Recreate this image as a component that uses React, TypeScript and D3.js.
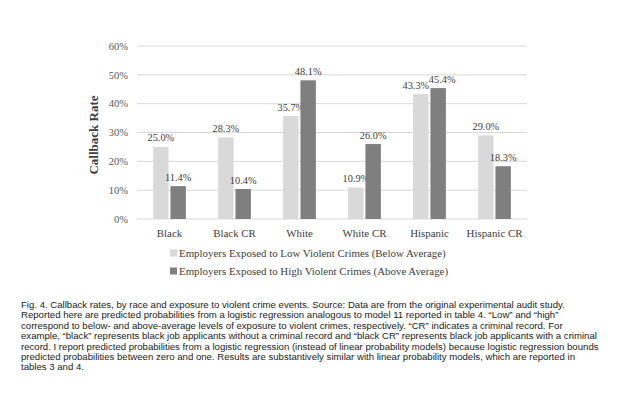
import React from "react";
import * as d3 from "d3";

const categories = ["Black", "Black CR", "White", "White CR", "Hispanic", "Hispanic CR"];
const lowViolent = [25.0, 28.3, 35.7, 10.9, 43.3, 29.0];
const highViolent = [11.4, 10.4, 48.1, 26.0, 45.4, 18.3];
const yTicks = [0, 10, 20, 30, 40, 50, 60];
const seriesNames = [
  "Employers Exposed to Low Violent Crimes (Below Average)",
  "Employers Exposed to High Violent Crimes (Above Average)",
];
const captionLines = [
  "Fig. 4. Callback rates, by race and exposure to violent crime events. Source: Data are from the original experimental audit study.",
  "Reported here are predicted probabilities from a logistic regression analogous to model 11 reported in table 4. \u201cLow\u201d and \u201chigh\u201d",
  "correspond to below- and above-average levels of exposure to violent crimes, respectively. \u201cCR\u201d indicates a criminal record. For",
  "example, \u201cblack\u201d represents black job applicants without a criminal record and \u201cblack CR\u201d represents black job applicants with a criminal",
  "record. I report predicted probabilities from a logistic regression (instead of linear probability models) because logistic regression bounds",
  "predicted probabilities between zero and one. Results are substantively similar with linear probability models, which are reported in",
  "tables 3 and 4.",
];

const colors = ["#d9d9d9", "#7f7f7f"];
const serif = "'Liberation Serif', 'Times New Roman', serif";
const sans = "'Liberation Sans', Arial, sans-serif";

export default function App() {
  const width = 620, height = 395;
  const left = 137, right = 527, top = 46, bottom = 219;

  const x = d3.scaleBand<string>().domain(categories).range([left, right]).paddingInner(0).paddingOuter(0);
  const y = d3.scaleLinear().domain([0, 60]).range([bottom, top]);
  const inner = d3.scaleBand<number>().domain([0, 1]).range([0, x.bandwidth()]).paddingInner(0.11).paddingOuter(0.93);

  const series = [lowViolent, highViolent];

  return (
    <svg width={width} height={height} style={{ position: "absolute", left: 0, top: 0, background: "#fff" }}>
      {yTicks.map((t) => (
        <g key={t}>
          <line x1={left} x2={right} y1={y(t)} y2={y(t)} stroke="#d9d9d9" strokeWidth={1} />
          <text x={128} y={y(t)} dy="0.35em" textAnchor="end" fontFamily={serif} fontSize={10.5} fill="#595959">
            {d3.format("d")(t) + "%"}
          </text>
        </g>
      ))}
      <text
        transform={`translate(93,135) rotate(-90)`}
        textAnchor="middle"
        dy="0.35em"
        fontFamily={serif}
        fontWeight="bold"
        fontSize={13}
        fill="#404040"
      >
        Callback Rate
      </text>
      {series.map((vals, si) =>
        vals.map((v, i) => {
          const bx = (x(categories[i]) ?? 0) + (inner(si) ?? 0);
          const bw = inner.bandwidth();
          // push labels apart when both bars are nearly the same height
          const other = series[1 - si][i];
          const nudge = Math.abs(v - other) < 4 ? (si === 0 ? -5 : 4) : 0;
          return (
            <g key={`${si}-${i}`}>
              <rect x={bx} y={y(v)} width={bw} height={y(0) - y(v)} fill={colors[si]} />
              <text x={bx + bw / 2 + nudge} y={y(v) - 5.5} textAnchor="middle" fontFamily={serif} fontSize={10.3} fill="#404040">
                {d3.format(".1f")(v) + "%"}
              </text>
            </g>
          );
        })
      )}
      {categories.map((c) => (
        <text key={c} x={(x(c) ?? 0) + x.bandwidth() / 2} y={233} dy="0.35em" textAnchor="middle" fontFamily={serif} fontSize={10.9} fill="#404040">
          {c}
        </text>
      ))}
      {seriesNames.map((n, i) => (
        <g key={n} transform={`translate(170,${253 + i * 18})`}>
          <rect x={0} y={-3.5} width={7} height={7} fill={colors[i]} />
          <text x={9} y={0} dy="0.35em" fontFamily={serif} fontSize={10.9} fill="#404040">
            {n}
          </text>
        </g>
      ))}
      {captionLines.map((l, i) => (
        <text key={i} x={21} y={308 + i * 10.4} fontFamily={sans} fontSize={9.6} fill="#222">
          {l}
        </text>
      ))}
    </svg>
  );
}
